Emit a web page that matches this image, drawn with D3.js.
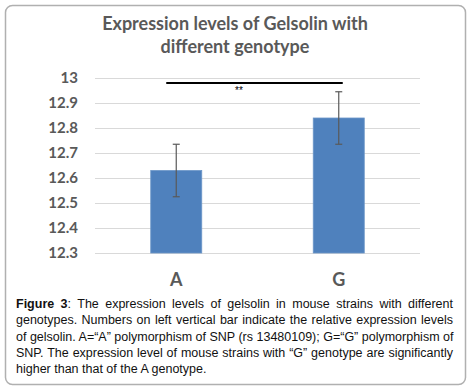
<!DOCTYPE html>
<html>
<head>
<meta charset="utf-8">
<script src="https://cdn.jsdelivr.net/npm/d3@7"></script>
<style>
  body { margin: 0; background: #fff; }
  #wrap { position: relative; width: 471px; height: 390px; }
  #caption {
    position: absolute; left: 16px; top: 296px; width: 437px;
    font-family: "Liberation Sans", Arial, sans-serif; font-size: 12.5px;
    line-height: 16.3px; color: #111;
  }
  #caption div { text-align: justify; text-align-last: justify; white-space: nowrap; }
  #caption div.last { text-align-last: left; }
</style>
</head>
<body>
<div id="wrap">
  <div id="chart"></div>
  <div id="caption"></div>
</div>
<script>
// Chart values
const categories = ["A", "G"];
const means = [12.63, 12.84];
const errors = [0.105, 0.105];
const yTicks = [12.3, 12.4, 12.5, 12.6, 12.7, 12.8, 12.9, 13];
const titleLines = ["Expression levels of Gelsolin with", "different genotype"];
const sigLabel = "**";
const captionLines = [
  "<b>Figure 3</b>: The expression levels of gelsolin in mouse strains with different",
  "genotypes. Numbers on left vertical bar indicate the relative expression levels",
  "of gelsolin. A=“A” polymorphism of SNP (rs 13480109); G=“G” polymorphism of",
  "SNP. The expression level of mouse strains with “G” genotype are significantly",
  "higher than that of the A genotype."
];

const W = 471, H = 390;
const plot = { left: 95, right: 420, top: 78, bottom: 253 };

const svg = d3.select("#chart").append("svg")
    .attr("width", W)
    .attr("height", H)
    .style("position", "absolute")
    .style("left", 0).style("top", 0);

// outer frame
svg.append("rect")
    .attr("x", 5.5).attr("y", 5.5)
    .attr("width", 460).attr("height", 379)
    .attr("rx", 7)
    .attr("fill", "none")
    .attr("stroke", "#b0b0b0")
    .attr("stroke-width", 1.5);

// title
svg.append("g").selectAll("text")
    .data(titleLines)
    .join("text")
    .attr("x", 235)
    .attr("y", (d, i) => 30 + i * 23)
    .attr("text-anchor", "middle")
    .attr("font-family", "Lato, 'Open Sans', sans-serif")
    .attr("font-weight", "bold")
    .attr("font-size", 18)
    .attr("fill", "#595959")
    .text(d => d);

const x = d3.scaleBand().domain(categories).range([plot.left, plot.right]).padding(0);
const y = d3.scaleLinear().domain([12.3, 13]).range([plot.bottom, plot.top]);
const barW = x.bandwidth() * 0.314;

// gridlines + y labels
const yAxis = d3.axisLeft(y)
    .tickValues(yTicks)
    .tickSize(-(plot.right - plot.left))
    .tickPadding(17)
    .tickFormat(d3.format("~g"));

const gy = svg.append("g")
    .attr("transform", `translate(${plot.left},0)`)
    .call(yAxis);
gy.select(".domain").remove();
gy.selectAll(".tick line").attr("stroke", "#d9d9d9").attr("stroke-width", 1);
gy.selectAll(".tick text")
    .attr("font-family", "Lato, 'Open Sans', sans-serif")
    .attr("font-weight", "bold")
    .attr("font-size", 15)
    .attr("fill", "#595959");

// bars
svg.append("g").selectAll("rect")
    .data(categories)
    .join("rect")
    .attr("x", d => x(d) + x.bandwidth() / 2 - barW / 2)
    .attr("y", (d, i) => y(means[i]))
    .attr("width", barW)
    .attr("height", (d, i) => y(12.3) - y(means[i]))
    .attr("fill", "#4f81bd")
    .attr("stroke", "#6c96c8")
    .attr("stroke-width", 0.8);

// error bars
const eb = svg.append("g").attr("stroke", "#595959").attr("stroke-width", 1.2);
categories.forEach((c, i) => {
    const cx = x(c) + x.bandwidth() / 2;
    const hi = y(means[i] + errors[i]), lo = y(means[i] - errors[i]);
    eb.append("line").attr("x1", cx).attr("x2", cx).attr("y1", hi).attr("y2", lo);
    eb.append("line").attr("x1", cx - 3.5).attr("x2", cx + 3.5).attr("y1", hi).attr("y2", hi);
    eb.append("line").attr("x1", cx - 3.5).attr("x2", cx + 3.5).attr("y1", lo).attr("y2", lo);
});

// significance bracket
const sigY = y(12.98);
svg.append("line")
    .attr("x1", x("A") + x.bandwidth() / 2 - 10)
    .attr("x2", x("G") + x.bandwidth() / 2 + 4)
    .attr("y1", sigY).attr("y2", sigY)
    .attr("stroke", "#000")
    .attr("stroke-width", 1.8);
svg.append("text")
    .attr("x", 239)
    .attr("y", sigY + 11)
    .attr("text-anchor", "middle")
    .attr("font-family", "'Liberation Sans', Arial, sans-serif")
    .attr("font-size", 10)
    .attr("fill", "#000")
    .text(sigLabel);

// x labels
svg.append("g").selectAll("text")
    .data(categories)
    .join("text")
    .attr("x", d => x(d) + x.bandwidth() / 2)
    .attr("y", 286)
    .attr("text-anchor", "middle")
    .attr("font-family", "Lato, 'Open Sans', sans-serif")
    .attr("font-weight", "bold")
    .attr("font-size", 18)
    .attr("fill", "#595959")
    .text(d => d);

// caption
d3.select("#caption").selectAll("div")
    .data(captionLines)
    .join("div")
    .attr("class", (d, i) => i === captionLines.length - 1 ? "last" : null)
    .html(d => d);
</script>
</body>
</html>
